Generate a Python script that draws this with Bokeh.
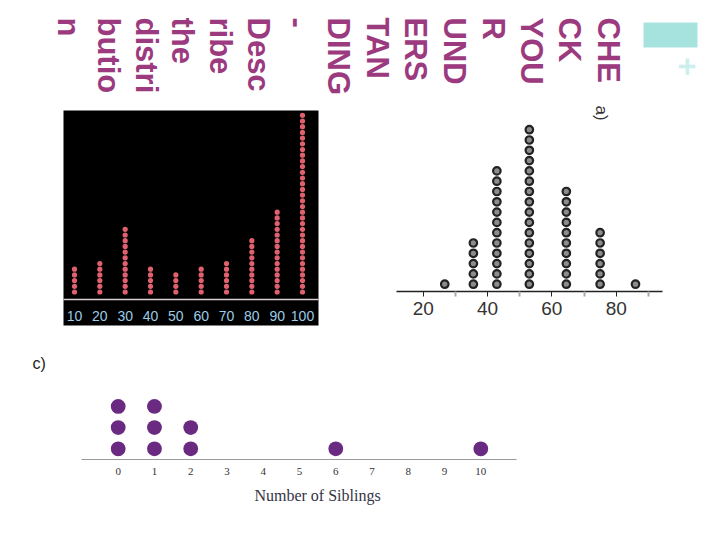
from bokeh.core.properties import value
from bokeh.embed import file_html
from bokeh.resources import INLINE
from bokeh.plotting import figure
from bokeh.models import Range1d, LinearAxis, FixedTicker
import math

# ---- data ----
heading_lines = ["CHE", "CK", "YOU", "R", "UND", "ERS", "TAN", "DING", "-",
                 "Desc", "ribe", "the", "distri", "butio", "n"]
a_values = [26.7, 35.6, 42.9, 53.0, 64.5, 75.0, 86.0]
a_counts = [1, 5, 12, 16, 10, 6, 1]
a_ticks = [20, 40, 60, 80]
a_minor_ticks = [30, 50, 70, 90]
b_values = [10, 20, 30, 40, 50, 60, 70, 80, 90, 100]
b_counts = [5, 6, 12, 5, 4, 5, 6, 10, 15, 32]
c_values = [0, 1, 2, 6, 10]
c_counts = [3, 3, 2, 1, 1]
c_ticks = [0, 1, 2, 3, 4, 5, 6, 7, 8, 9, 10]
c_label = "Number of Siblings"

# ---- page geometry ----
W, H = 704, 524
X0, X1, Y0, Y1 = 0, W, 0, H
FONT = value("Liberation Sans")
SERIF = value("Liberation Serif")

p = figure(width=W, height=H, output_backend="svg", toolbar_location=None,
           x_axis_type=None, y_axis_type=None, min_border=0,
           x_range=Range1d(X0, X1), y_range=Range1d(Y1, Y0),
           background_fill_color="white", border_fill_color="white")
p.outline_line_color = None
p.grid.visible = False


def x_scale(px_a, val_a, px_b, val_b):
    k = (val_b - val_a) / (px_b - px_a)
    return Range1d(val_a + (X0 - px_a) * k, val_a + (X1 - px_a) * k)


def y_scale(px_base, px_step):
    return Range1d((px_base - Y1) / px_step, (px_base - Y0) / px_step)


def stacks(values, counts):
    xs, ys = [], []
    for v, n in zip(values, counts):
        for i in range(n):
            xs.append(v)
            ys.append(i)
    return xs, ys


p.extra_x_ranges = {"a": x_scale(422.7, 20, 615.7, 80),
                    "b": x_scale(74, 10, 302, 100),
                    "c": x_scale(117.7, 0, 480.3, 10)}
p.extra_y_ranges = {"a": y_scale(283.7, 10.3),
                    "b": y_scale(291.5, 5.7),
                    "c": y_scale(448.3, 21.2)}

# ---- decoration ----
p.quad(left=[643], right=[697], top=[22], bottom=[47], fill_color="#a6e3df", line_color=None)
p.quad(left=[63], right=[318], top=[110], bottom=[325], fill_color="black", line_color=None)

# ---- rotated heading ----
head_x = [607.5, 569, 530.5, 492.5, 453.5, 415, 376.5, 338, 297, 258, 220, 182, 146, 108, 68]
p.text(x=head_x, y=[17] * len(heading_lines), text=heading_lines, angle=-math.pi / 2,
       text_font=FONT, text_font_style="bold", text_font_size="31px",
       text_color="#9c3a80", text_align="left", text_baseline="middle")
p.text(x=[687], y=[66], text=["+"], angle=-math.pi / 2, text_font=FONT,
       text_font_style="bold", text_font_size="32px", text_color="#cdeeec",
       text_align="center", text_baseline="middle")
p.text(x=[600.5], y=[105], text=["a)"], angle=-math.pi / 2, text_font=FONT,
       text_font_size="17px", text_color="#333333", text_align="left", text_baseline="middle")
p.text(x=[32], y=[363], text=["c)"], text_font=FONT, text_font_size="16px",
       text_color="#222222", text_align="left", text_baseline="middle")

# ---- chart a ----
ax, ay = stacks(a_values, a_counts)
p.scatter(ax, ay, x_range_name="a", y_range_name="a", size=7.5, marker="circle",
          fill_color="#8c8c8c", line_color="#222222", line_width=2.2)
axis_a = LinearAxis(x_range_name="a", fixed_location=290.7, bounds=(11.7, 94.5),
                    ticker=FixedTicker(ticks=a_ticks, minor_ticks=a_minor_ticks))
axis_a.axis_line_color = "#222222"
axis_a.axis_line_width = 1.5
axis_a.major_tick_line_color = "#222222"
axis_a.major_tick_out = 5
axis_a.major_tick_in = 0
axis_a.minor_tick_line_color = "#aaaaaa"
axis_a.minor_tick_line_width = 2
axis_a.minor_tick_out = 5
axis_a.minor_tick_in = 0
axis_a.major_label_text_font = "Liberation Sans"
axis_a.major_label_text_font_size = "19px"
axis_a.major_label_text_color = "#333333"
axis_a.major_label_standoff = 6
p.add_layout(axis_a, "below")

# ---- chart b ----
bx, by = stacks(b_values, b_counts)
p.scatter(bx, by, x_range_name="b", y_range_name="b", size=5.2, marker="circle",
          fill_color="#e0606e", line_color=None)
axis_b = LinearAxis(x_range_name="b", fixed_location=298.7, bounds=(5.7, 106.3),
                    ticker=FixedTicker(ticks=b_values))
axis_b.axis_line_color = "#d8d0d0"
axis_b.axis_line_width = 1.5
axis_b.major_tick_line_color = None
axis_b.minor_tick_line_color = None
axis_b.major_label_text_font = "Liberation Sans"
axis_b.major_label_text_font_size = "14px"
axis_b.major_label_text_color = "#9ccbe6"
axis_b.major_label_standoff = 6
p.add_layout(axis_b, "below")

# ---- chart c ----
cx, cy = stacks(c_values, c_counts)
p.scatter(cx, cy, x_range_name="c", y_range_name="c", size=14.8, marker="circle",
          fill_color="#6a2a82", line_color=None)
axis_c = LinearAxis(x_range_name="c", fixed_location=459.3, bounds=(-1, 10.98),
                    ticker=FixedTicker(ticks=c_ticks))
axis_c.axis_line_color = "#999999"
axis_c.axis_line_width = 1.2
axis_c.major_tick_line_color = None
axis_c.minor_tick_line_color = None
axis_c.major_label_text_font = "Liberation Serif"
axis_c.major_label_text_font_size = "11px"
axis_c.major_label_text_color = "#333333"
axis_c.major_label_standoff = 2
p.add_layout(axis_c, "below")
p.text(x=[317], y=[494.5], text=[c_label], text_font=SERIF, text_font_size="16px",
       text_color="#333344", text_align="center", text_baseline="middle")

open("out.html", "w").write(file_html(p, INLINE))
